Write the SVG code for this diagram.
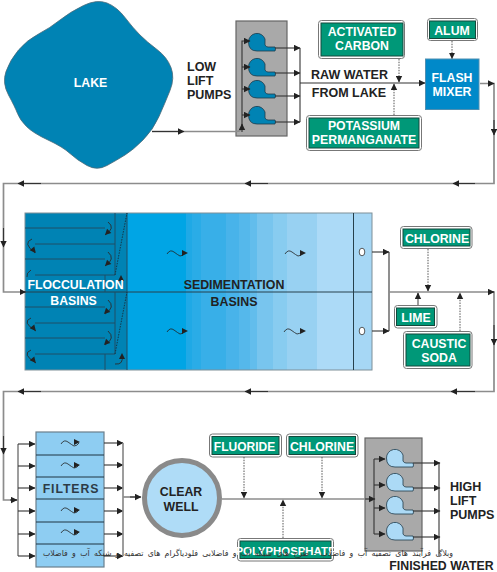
<svg xmlns="http://www.w3.org/2000/svg" xmlns:xlink="http://www.w3.org/1999/xlink" width="497" height="572" viewBox="0 0 497 572">
<style>
text{font-family:"Liberation Sans",Arial,sans-serif;font-weight:700;text-anchor:middle}
.w{fill:#fff;font-size:12.300px}
.k{fill:#222;font-size:12.300px}
.l{fill:#222;font-size:12.500px;text-anchor:start}
.outer{fill:#fff;stroke:#777;stroke-width:1}
.green{fill:#009878;stroke:#14493c;stroke-width:1}
.g{fill:none;stroke:#8c8c8c;stroke-width:1.700}
.d{fill:none;stroke:#333;stroke-width:1.100}
.dot{fill:none;stroke:#555;stroke-width:1;stroke-dasharray:1.500 1.200}
.f{stroke:#1f4f66;stroke-width:1;fill:none}
.s{fill:none;stroke:#2b2b2b;stroke-width:.9}
.box{fill:#a9a9a9;stroke:#666;stroke-width:1.200}
.pa{fill:#0083b4;stroke:#1f3c4c;stroke-width:.8}
.pb{fill:#acdaf6;stroke:#1f3c4c;stroke-width:.8}
</style>
<defs>
<marker id="ah" markerUnits="userSpaceOnUse" markerWidth="7" markerHeight="7" refX="6" refY="3.500" orient="auto"><path d="M0,0.300L6.500,3.500L0,6.700Z" fill="#222"/></marker>
<path id="pump" d="M-8.500,0A8.500,8.500 0 0 1 8,-3L8,3Q9,5 11,5L18,5Q19,7 18,9L0,9Q-8.500,9 -8.500,0Z"/>
<path id="wave" d="M0,0Q3,-5 7,-2T13,2Q16,2 18,-1" fill="none" stroke="#222" stroke-width=".8"/>
<path id="arr" d="M0,-3L6,0L0,3Z" fill="#222"/>
</defs>

<g id="lake"><path d="M83.500,5.500Q97,-1 107,3Q117,7 125,17.500Q133,28 140,35Q147,42 157,49.500Q167,57 171,67.500Q175,78 170,90.500Q165,103 159,116.500Q153,130 143,140Q133,150 125,155Q117,160 107,165.500Q97,171 87,165.500Q77,160 70,153.500Q63,147 48,140Q33,133 26.500,126.500Q20,120 17.500,113.500Q15,107 8.500,95Q2,83 6,71.500Q10,60 18.500,50Q27,40 38.500,34Q50,28 60,20Q70,12 83.500,5.500Z" fill="#0083b4" stroke="#4a6a78" stroke-width=".8"/><text class="w" x="90.500" y="87">LAKE</text></g>

<g id="low-lift-pumps">
<rect class="box" x="236" y="21" width="51" height="115"/>
<use href="#pump" class="pa" x="257" y="42"/><use href="#pump" class="pa" x="257" y="67"/><use href="#pump" class="pa" x="257" y="89"/><use href="#pump" class="pa" x="257" y="115"/>
<text class="l" x="187" y="71">LOW</text><text class="l" x="187" y="85">LIFT</text><text class="l" x="187" y="99">PUMPS</text>
</g>

<g id="activated-carbon"><rect class="outer" x="318.500" y="20.500" width="86" height="38" rx="3"/><rect class="green" x="321" y="23" width="82" height="33"/><text class="w" x="362" y="36">ACTIVATED</text><text class="w" x="362" y="50">CARBON</text></g>
<g id="alum"><rect class="outer" x="427.500" y="18.500" width="50" height="22" rx="3"/><rect class="green" x="429.500" y="21" width="46" height="17.500"/><text class="w" x="452" y="35">ALUM</text></g>
<g id="potassium-permanganate"><rect class="outer" x="306.500" y="115.500" width="115" height="35" rx="3"/><rect class="green" x="309" y="118" width="110" height="30"/><text class="w" x="364" y="130">POTASSIUM</text><text class="w" x="364" y="144">PERMANGANATE</text></g>
<g id="flash-mixer"><rect x="425.500" y="59" width="53.500" height="50.500" fill="#0089c9" stroke="#4f8fb2"/><text class="w" x="452" y="82">FLASH</text><text class="w" x="452" y="96">MIXER</text></g>
<g id="raw-water"><text class="k" x="349.500" y="79" style="font-size:12.500px">RAW WATER</text><text class="k" x="349" y="97" style="font-size:12.500px">FROM LAKE</text></g>

<g id="basins">
<rect x="25" y="213" width="102" height="157" fill="#0083b4"/>
<rect x="127" y="213" width="59" height="157" fill="#00a5e5"/>
<rect x="186" y="213" width="6" height="157" fill="#1fa9e6"/>
<rect x="192" y="213" width="9" height="157" fill="#2aace7"/>
<rect x="201" y="213" width="25" height="157" fill="#38afe8"/>
<rect x="226" y="213" width="13" height="157" fill="#48b3ea"/>
<rect x="239" y="213" width="11" height="157" fill="#55b8eb"/>
<rect x="250" y="213" width="7" height="157" fill="#62bdec"/>
<rect x="257" y="213" width="16" height="157" fill="#78c5ee"/>
<rect x="273" y="213" width="14" height="157" fill="#88ccf0"/>
<rect x="287" y="213" width="30" height="157" fill="#98d1f2"/>
<rect x="317" y="213" width="37" height="157" fill="#acdaf7"/>
<rect x="354" y="213" width="18" height="157" fill="#a6d7f5"/>
<rect x="25" y="213" width="347" height="157" fill="none" stroke="#7f8f98" stroke-width="1"/>
<path d="M25,292H372M353.500,213V370" fill="none" stroke="#26404c" stroke-width="1"/>
<path class="f" d="M127,213V370M25,228H105M35,244H115M25,259H105M35,275H115M115,213V275M105,275V292M115,292V354M25,307H105M35,323H115M25,338H105M35,354H115M105,354V370"/>
<path class="dot" d="M115,275L127,213M115,354L127,292" style="stroke:#13384a"/>
<g id="flow-curves" class="s">
<path d="M108,222Q116,228 105,235"/><path d="M108,252Q116,259 105,266"/><path d="M108,300Q116,307 105,314"/><path d="M108,331Q116,338 105,345"/>
<path d="M32,239Q22,243 35,253"/><path d="M31,270Q26,273 27,277"/><path d="M31,318Q21,322 36,331"/><path d="M31,350Q21,354 36,363"/>
<path d="M115,364Q124,365 122,355"/>
</g>
<g>
<use href="#arr" transform="translate(109.200,230.800) rotate(135)"/><use href="#arr" transform="translate(109.200,261.800) rotate(135)"/><use href="#arr" transform="translate(108.200,309.800) rotate(135)"/><use href="#arr" transform="translate(108.200,340.800) rotate(135)"/>
<use href="#arr" transform="translate(32,248.400) rotate(50)"/><use href="#arr" transform="translate(32,326.400) rotate(50)"/><use href="#arr" transform="translate(32,358.400) rotate(50)"/>
<use href="#arr" transform="translate(122,359) rotate(-90)"/><use href="#arr" transform="translate(121,281) rotate(-90)"/>
</g>
<use href="#wave" x="167" y="254"/><use href="#arr" x="182" y="253"/><use href="#wave" x="167" y="332"/><use href="#arr" x="182" y="331"/>
<use href="#wave" x="285" y="254"/><use href="#arr" x="300" y="253"/><use href="#wave" x="284" y="332"/><use href="#arr" x="300" y="331"/>
<ellipse cx="362" cy="252" rx="2.800" ry="3.800" fill="#fff" stroke="#333" stroke-width=".8"/><ellipse cx="362" cy="331" rx="2.800" ry="3.800" fill="#fff" stroke="#333" stroke-width=".8"/>
<text class="w" x="75.500" y="289">FLOCCULATION</text><text class="w" x="73.500" y="305">BASINS</text>
<text class="k" x="234" y="289" style="font-size:12.400px">SEDIMENTATION</text><text class="k" x="234" y="306" style="font-size:12.400px">BASINS</text>
</g>

<g id="chlorine-1"><rect class="outer" x="400.500" y="226.500" width="71.500" height="22" rx="3"/><rect class="green" x="403" y="229" width="67" height="17"/><text class="w" x="437" y="243">CHLORINE</text></g>
<g id="lime"><rect class="outer" x="394.500" y="305.500" width="42.500" height="22.500" rx="3"/><rect class="green" x="396.500" y="308" width="38" height="17.500"/><text class="w" x="416" y="322">LIME</text></g>
<g id="caustic-soda"><rect class="outer" x="403.500" y="331.500" width="68.500" height="37" rx="3"/><rect class="green" x="406" y="334" width="64" height="32"/><text class="w" x="439" y="348">CAUSTIC</text><text class="w" x="439" y="362">SODA</text></g>

<g id="filters">
<rect x="36" y="432" width="68" height="135" fill="#8ecdf2" stroke="#6a7f8c" stroke-width="1.200"/>
<path d="M36,455H104M36,477H104M36,499H104M36,522H104M36,544H104" stroke="#1e3442" stroke-width="1" fill="none"/>
<use href="#wave" x="61" y="444"/><use href="#arr" x="74" y="442"/><use href="#wave" x="61" y="466"/><use href="#arr" x="74" y="465"/><use href="#wave" x="61" y="511"/><use href="#arr" x="74" y="510"/><use href="#wave" x="61" y="533"/><use href="#arr" x="74" y="532"/>
<text class="k" x="71" y="493" style="letter-spacing:.9px;fill:#2d3b46">FILTERS</text>
</g>
<g id="clear-well"><circle cx="182" cy="498" r="37.500" fill="#afdcf7" stroke="#8a8a8a" stroke-width="5"/><text class="k" x="181" y="496">CLEAR</text><text class="k" x="181" y="511">WELL</text></g>

<g id="fluoride"><rect class="outer" x="209.500" y="434" width="72" height="23" rx="3"/><rect class="green" x="212" y="436.500" width="67" height="18"/><text class="w" x="244.500" y="451" style="font-size:12px">FLUORIDE</text></g>
<g id="chlorine-2"><rect class="outer" x="286.500" y="434" width="71.500" height="23" rx="3"/><rect class="green" x="289" y="436.500" width="66.500" height="18"/><text class="w" x="322" y="451">CHLORINE</text></g>
<g id="polyphosphate"><rect class="outer" x="237.500" y="538.500" width="96" height="22.500" rx="3"/><rect class="green" x="240" y="541" width="91" height="17.500"/><text class="w" x="285.500" y="555" style="font-size:11.400px">POLYPHOSPHATE</text></g>

<g id="high-lift-pumps">
<rect class="box" x="365" y="438" width="57" height="113"/>
<use href="#pump" class="pb" x="395" y="458"/><use href="#pump" class="pb" x="395" y="482"/><use href="#pump" class="pb" x="395" y="505"/><use href="#pump" class="pb" x="395" y="531"/>
<text class="l" x="450" y="491">HIGH</text><text class="l" x="450" y="505">LIFT</text><text class="l" x="450" y="519">PUMPS</text>
</g>
<g id="finished-water"><text class="k" x="441.500" y="570">FINISHED WATER</text></g>

<g id="connectors">
<path class="g" d="M152,131.500H236Q242,131.500 242,126"/>
<path class="d" d="M152,131.500H184" marker-end="url(#ah)"/>
<path class="d" d="M242,132V41H250" marker-end="url(#ah)"/>
<path class="d" d="M242,128V124" marker-end="url(#ah)"/>
<path class="d" d="M242,67H250" marker-end="url(#ah)"/><path class="d" d="M242,89H250" marker-end="url(#ah)"/><path class="d" d="M242,115H250" marker-end="url(#ah)"/>
<path class="d" d="M275,48H300" marker-end="url(#ah)"/><path class="d" d="M275,73H300" marker-end="url(#ah)"/><path class="d" d="M275,96H300" marker-end="url(#ah)"/><path class="d" d="M275,122H300" marker-end="url(#ah)"/>
<path class="d" d="M300,48V122"/>
<path class="d" d="M300,83H425" marker-end="url(#ah)"/>
<path class="dot" d="M399,59V82" marker-end="url(#ah)"/><path class="dot" d="M394,115V84" marker-end="url(#ah)"/><path class="dot" d="M452,41V58.500" marker-end="url(#ah)"/>
<path class="g" d="M480,83.500H494V183.500H3.500V292H25"/>
<path class="d" d="M490,83.500H494" marker-end="url(#ah)"/>
<path class="d" d="M494,120V135" marker-end="url(#ah)"/>
<path class="d" d="M475,183.500H453" marker-end="url(#ah)" stroke-width="1.500"/>
<path class="d" d="M268,183.500H245" marker-end="url(#ah)" stroke-width="1.500"/>
<path class="d" d="M41,183.500H18" marker-end="url(#ah)" stroke-width="1.500"/>
<path class="d" d="M3.500,228V247" marker-end="url(#ah)"/>
<path class="d" d="M20,292H25.500" marker-end="url(#ah)"/>
<path class="d" d="M372,252H389" marker-end="url(#ah)"/><path class="d" d="M372,331H389" marker-end="url(#ah)"/>
<path class="d" d="M389,252V331"/>
<path class="g" d="M389,292H494V391.500H3.500V500H18"/>
<path class="d" d="M488,292H494" marker-end="url(#ah)"/>
<path class="d" d="M494,325V345" marker-end="url(#ah)"/>
<path class="d" d="M475,391.500H451" marker-end="url(#ah)" stroke-width="1.500"/>
<path class="d" d="M268,391.500H245" marker-end="url(#ah)" stroke-width="1.500"/>
<path class="d" d="M41,391.500H18" marker-end="url(#ah)" stroke-width="1.500"/>
<path class="d" d="M3.500,436V454" marker-end="url(#ah)"/>
<path class="d" d="M10,500H17" marker-end="url(#ah)"/>
<path class="dot" d="M428,249V291" marker-end="url(#ah)"/>
<path class="g" d="M418,305V294"/><path class="d" d="M418,298V293" marker-end="url(#ah)"/>
<path class="dot" d="M460,331V293" marker-end="url(#ah)"/>
<path class="g" d="M18,444V556"/>
<path class="d" d="M18,444H35" marker-end="url(#ah)"/><path class="d" d="M18,466H35" marker-end="url(#ah)"/><path class="d" d="M18,488H35" marker-end="url(#ah)"/><path class="d" d="M18,511H35" marker-end="url(#ah)"/><path class="d" d="M18,534H35" marker-end="url(#ah)"/><path class="d" d="M18,556H35" marker-end="url(#ah)"/>
<path class="d" d="M104,443H123" marker-end="url(#ah)"/><path class="d" d="M104,465H123" marker-end="url(#ah)"/><path class="d" d="M104,488H123" marker-end="url(#ah)"/><path class="d" d="M104,511H123" marker-end="url(#ah)"/><path class="d" d="M104,534H123" marker-end="url(#ah)"/><path class="d" d="M104,556H123" marker-end="url(#ah)"/>
<path class="g" d="M123,443V556"/>
<path class="g" d="M123,497H140"/><path class="d" d="M130,497H141" marker-end="url(#ah)"/>
<path class="g" d="M222,499H373"/><path class="d" d="M365,499H375" marker-end="url(#ah)"/>
<path class="dot" d="M244,457V498" marker-end="url(#ah)"/><path class="dot" d="M322,457V498" marker-end="url(#ah)"/><path class="dot" d="M283,538V500" marker-end="url(#ah)"/>
<path class="d" d="M374,459V534"/>
<path class="d" d="M374,459H385" marker-end="url(#ah)"/><path class="d" d="M374,485H385" marker-end="url(#ah)"/><path class="d" d="M374,508H385" marker-end="url(#ah)"/><path class="d" d="M374,534H385" marker-end="url(#ah)"/>
<path class="d" d="M413,463H440" marker-end="url(#ah)"/><path class="d" d="M413,488H440" marker-end="url(#ah)"/><path class="d" d="M413,511H440" marker-end="url(#ah)"/><path class="d" d="M413,537H440" marker-end="url(#ah)"/>
<path class="d" d="M439,463V556"/>
</g>

<text x="453" y="556" direction="rtl" textLength="410" lengthAdjust="spacingAndGlyphs" style="font-family:'DejaVu Sans','Noto Sans',sans-serif;font-weight:400;font-size:8.500px;text-anchor:start;fill:#333;word-spacing:2px">وبلاگ فرآیند های تصفیه آب و فاضلاب - طرح های شبکه آب و فاضلابی فلودیاگرام های تصفیه و شبکه آب و فاضلاب</text>
</svg>
